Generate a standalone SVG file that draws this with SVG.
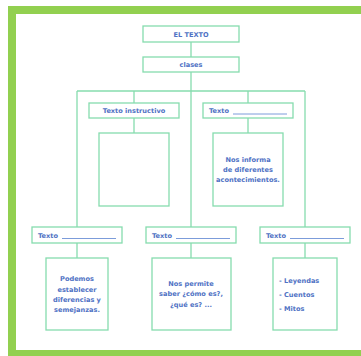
<svg xmlns="http://www.w3.org/2000/svg" width="361" height="356" viewBox="0 0 361 356">
<style>
.box{fill:#fff;stroke:#86dcae;stroke-width:1.3}
.ln{stroke:#86dcae;stroke-width:1.3;fill:none}
.t{font-family:"DejaVu Sans",Verdana,sans-serif;font-weight:bold;font-size:6.6px;fill:#4f72c4}
.c{text-anchor:middle}
.u{stroke:#5b83d0;stroke-width:0.8}
</style>
<rect x="0" y="0" width="361" height="356" fill="#fff"/>
<g id="frame">
<rect x="8" y="6" width="353" height="8" fill="#92d050"/>
<rect x="8" y="6" width="8" height="350" fill="#92d050"/>
<rect x="8" y="350" width="353" height="6" fill="#92d050"/>
</g>
<g id="connectors">
<line class="ln" x1="191" y1="42" x2="191" y2="57"/>
<line class="ln" x1="191" y1="72" x2="191" y2="227"/>
<line class="ln" x1="77" y1="91" x2="305" y2="91"/>
<line class="ln" x1="77" y1="91" x2="77" y2="227"/>
<line class="ln" x1="305" y1="91" x2="305" y2="227"/>
<line class="ln" x1="134" y1="91" x2="134" y2="103"/>
<line class="ln" x1="248" y1="91" x2="248" y2="103"/>
<line class="ln" x1="134" y1="118" x2="134" y2="133"/>
<line class="ln" x1="248" y1="118" x2="248" y2="133"/>
<line class="ln" x1="77" y1="243" x2="77" y2="258"/>
<line class="ln" x1="191" y1="243" x2="191" y2="258"/>
<line class="ln" x1="305" y1="243" x2="305" y2="258"/>
</g>
<g id="n-eltexto">
<rect class="box" x="143" y="26" width="96" height="16"/>
<text class="t c" x="191" y="36.5">EL TEXTO</text>
</g>
<g id="n-clases">
<rect class="box" x="143" y="57" width="96" height="15"/>
<text class="t c" x="191" y="67">clases</text>
</g>
<g id="n-instructivo">
<rect class="box" x="89" y="103" width="90" height="15"/>
<text class="t c" x="134" y="113">Texto instructivo</text>
</g>
<g id="n-texto-a">
<rect class="box" x="203" y="103" width="90" height="15"/>
<text class="t" x="209" y="113">Texto</text>
<line class="u" x1="233" y1="114" x2="287" y2="114"/>
</g>
<g id="n-empty">
<rect class="box" x="99" y="133" width="70" height="73"/>
</g>
<g id="n-informa">
<rect class="box" x="213" y="133" width="70" height="73"/>
<text class="t c" x="248" y="162">Nos informa</text>
<text class="t c" x="248" y="172">de diferentes</text>
<text class="t c" x="248" y="182">acontecimientos.</text>
</g>
<g id="n-texto-b">
<rect class="box" x="32" y="227" width="90" height="16"/>
<text class="t" x="38" y="237.5">Texto</text>
<line class="u" x1="62" y1="238.5" x2="116" y2="238.5"/>
</g>
<g id="n-texto-c">
<rect class="box" x="146" y="227" width="90" height="16"/>
<text class="t" x="152" y="237.5">Texto</text>
<line class="u" x1="176" y1="238.5" x2="230" y2="238.5"/>
</g>
<g id="n-texto-d">
<rect class="box" x="260" y="227" width="90" height="16"/>
<text class="t" x="266" y="237.5">Texto</text>
<line class="u" x1="290" y1="238.5" x2="344" y2="238.5"/>
</g>
<g id="n-podemos">
<rect class="box" x="46" y="258" width="62" height="72"/>
<text class="t c" x="77" y="281">Podemos</text>
<text class="t c" x="77" y="291.5">establecer</text>
<text class="t c" x="77" y="302">diferencias y</text>
<text class="t c" x="77" y="312">semejanzas.</text>
</g>
<g id="n-permite">
<rect class="box" x="152" y="258" width="79" height="72"/>
<text class="t c" x="191" y="286">Nos permite</text>
<text class="t c" x="191" y="296">saber ¿cómo es?,</text>
<text class="t c" x="191" y="307">¿qué es? ...</text>
</g>
<g id="n-mitos">
<rect class="box" x="273" y="258" width="64" height="72"/>
<text class="t" x="279" y="283">- Leyendas</text>
<text class="t" x="279" y="297">- Cuentos</text>
<text class="t" x="279" y="311">- Mitos</text>
</g>
</svg>
